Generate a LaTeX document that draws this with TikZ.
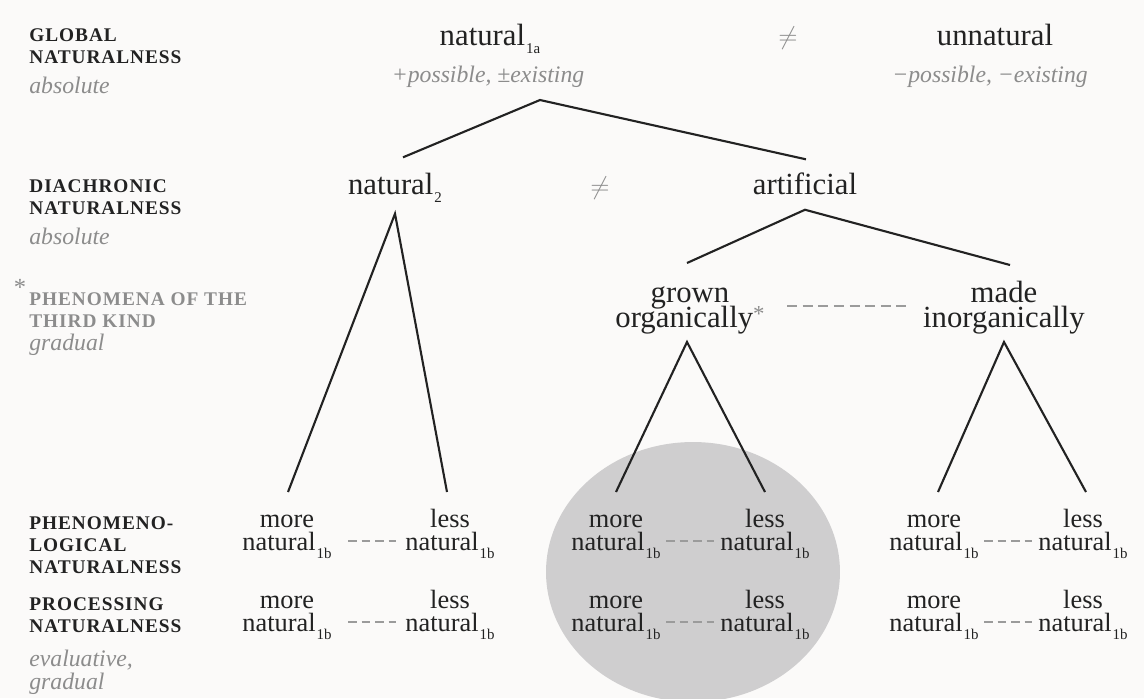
\documentclass[tikz,border=0pt]{standalone}
\usepackage{fontspec}
\setmainfont{Liberation Serif}
\usetikzlibrary{positioning, calc}
\definecolor{paper}{HTML}{FBFAF9}
\definecolor{ink}{HTML}{222222}
\definecolor{mutegray}{HTML}{8C8C8C}
\definecolor{dashgray}{HTML}{9B9B9B}
\definecolor{blobgray}{HTML}{CFCECF}
\newcommand{\natsub}[1]{natural\kern0.6pt\raisebox{-5pt}{\fontsize{8.5}{8.5}\selectfont #1}}
\newcommand{\grayast}{\raisebox{3pt}{\fontsize{13}{13}\selectfont\textcolor{mutegray}{*}}}
\tikzset{
  tier/.style={font=\fontsize{11}{12.5}\selectfont\bfseries\addfontfeature{LetterSpace=5}, text=ink, align=left, anchor=base west, inner sep=0pt},
  tiergray/.style={tier, text=mutegray},
  gloss/.style={font=\fontsize{13.5}{13}\selectfont\itshape, text=mutegray, align=left, anchor=base west, inner sep=0pt},
  term/.style={font=\fontsize{17.5}{17.5}\selectfont, text=ink, anchor=base, inner sep=0pt, text height=11pt, text depth=2.5pt},
  stack/.style={font={\fontsize{17.5}{14.2}\selectfont\lineskiplimit=-20pt}, text=ink, align=center, anchor=base, inner sep=0pt},
  twoline/.style={stack, font={\fontsize{15}{13}\selectfont\lineskiplimit=-20pt}},
  neq/.style={font=\fontsize{14}{14}\selectfont, text=mutegray, anchor=base, inner sep=0pt},
  branch/.style={draw=ink, line width=1.2pt},
  grade/.style={draw=dashgray, line width=1.4pt, dash pattern=on 5.1pt off 2.6pt},
  longgrade/.style={grade, dash pattern=on 5.7pt off 3.2pt},
}

\begin{document}
\begin{tikzpicture}[x=0.02cm, y=-0.02cm]
  \useasboundingbox (0,0) rectangle (1144,698);
  \fill[paper] (0,0) rectangle (1144,698);
  \clip (0,0) rectangle (1144,698);
  % shaded region round the middle pairs
  \fill[blobgray] (693,572) ellipse [x radius=2.94cm, y radius=2.6cm];

  % tier labels on the left
  \node[tier] (global) at (29,63) {GLOBAL\\NATURALNESS};
  \node[gloss] (globalnote) at (29,93) {absolute};
  \node[tier] (diachr) at (29,214) {DIACHRONIC\\NATURALNESS};
  \node[gloss] (diachrnote) at (29,244) {absolute};
  \node[font=\fontsize{14}{14}\selectfont, text=mutegray, inner sep=0pt] (thirdstar) at (20,287) {*};
  \node[tiergray] (third) at (29,327) {PHENOMENA OF THE\\THIRD KIND};
  \node[gloss] (thirdnote) at (29,350) {gradual};
  \node[tier] (phenom) at (29,573) {PHENOMENO-\\LOGICAL\\NATURALNESS};
  \node[tier] (proc) at (29,632) {PROCESSING\\NATURALNESS};
  \node[gloss] (procnote) at (29,689) {evaluative,\\gradual};

  % global level
  \node[term] (n1a) at (490,45) {\natsub{1a}};
  \node[gloss, anchor=base] (n1anote) at (488,82) {+possible, ±existing};
  \node[neq] (neqtop) at (788,44) {$\neq$};
  \node[term] (unnat) at (995,45) {unnatural};
  \node[gloss, anchor=base] (unnatnote) at (990,82) {−possible, −existing};

  % diachronic level
  \node[term] (n2) at (395,194) {\natsub{2}};
  \node[neq] (neqmid) at (600,194) {$\neq$};
  \node[term] (art) at (805,194) {artificial};

  % third kind
  \node[stack] (grown) at (690,327) {grown\\organically\grayast};
  \node[stack] (made) at (1004,327) {made\\inorganically};
  \draw[longgrade] ($(grown.base -| 787,0)+(0,-21)$) -- ($(grown.base -| 908,0)+(0,-21)$);

  % tree
  \coordinate (apex) at (540,100);
  \draw[branch] ([shift={(8,-17)}]n2.north) -- (apex) -- ([shift={(1,-15)}]art.north);
  \draw[branch] ([shift={(-3,-64)}]grown.base) -- ([shift={(0,11)}]art.south) -- ([shift={(6,-62)}]made.base);

  % more / less pairs
  \foreach \col/\mx/\lx/\dx in {a/287/450/372, b/616/765/690, c/934/1083/1008}
    \foreach \row/\by in {p/550, q/631} {
      \node[twoline] (more\col\row) at (\mx,\by) {more\\\natsub{1b}};
      \node[twoline] (less\col\row) at (\lx,\by) {less\\\natsub{1b}};
      \draw[grade] ($(more\col\row.base -| \dx,0)+(-24,-9)$)
        -- ($(more\col\row.base -| \dx,0)+(24,-9)$);
    }

  \draw[branch] ([shift={(1,-58)}]moreap.base) -- ([shift={(0,15)}]n2.south) -- ([shift={(-3,-58)}]lessap.base);
  \draw[branch] ([shift={(0,-58)}]morebp.base) -- ([shift={(-3,15)}]grown.base) -- ([shift={(0,-58)}]lessbp.base);
  \draw[branch] ([shift={(4,-58)}]morecp.base) -- ([shift={(0,15)}]made.base) -- ([shift={(3,-58)}]lesscp.base);
\end{tikzpicture}
\end{document}
